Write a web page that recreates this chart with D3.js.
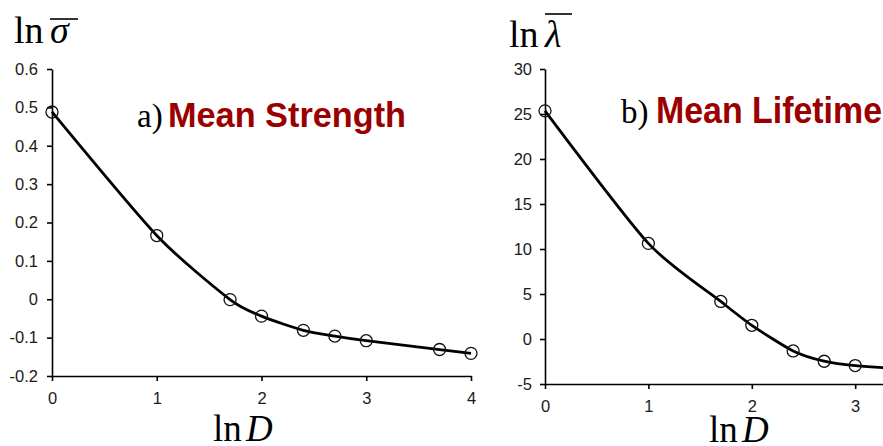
<!DOCTYPE html>
<html>
<head>
<meta charset="utf-8">
<script src="https://cdn.jsdelivr.net/npm/d3@7/dist/d3.min.js"></script>
<style>
  html, body { margin: 0; padding: 0; background: #fff; }
  svg { display: block; }
</style>
</head>
<body>
<svg id="chart" width="883" height="446"></svg>
<script>
// ---- data ----
const lnD_A = [0, 1, 1.7, 2, 2.4, 2.7, 3, 3.7, 4];
const lnSigma = [0.488, 0.166, -0.001, -0.044, -0.081, -0.096, -0.108, -0.131, -0.141];

const lnD_B = [0, 1, 1.7, 2, 2.4, 2.7, 3];
const lnLambda = [25.35, 10.62, 4.17, 1.52, -1.33, -2.47, -2.95];
// curve continues past the cropped right edge
const lnD_B_curve = [0, 1, 1.7, 2, 2.4, 2.7, 3, 3.7, 4];
const lnLambda_curve = [25.35, 10.62, 4.17, 1.52, -1.33, -2.47, -2.95, -3.45, -3.55];

const xTicksA = [0, 1, 2, 3, 4];
const yTicksA = [-0.2, -0.1, 0, 0.1, 0.2, 0.3, 0.4, 0.5, 0.6];
const xTicksB = [0, 1, 2, 3, 4];
const yTicksB = [-5, 0, 5, 10, 15, 20, 25, 30];

const titleA = "Mean Strength";
const titleB = "Mean Lifetime";

// ---- drawing ----
const svg = d3.select("#chart");
const red = "#9a0000";
const serif = "'Liberation Serif', 'Times New Roman', serif";
const sans = "'Liberation Sans', Arial, sans-serif";

function panel(opts) {
  const g = svg.append("g");
  const x = d3.scaleLinear().domain(opts.xDomain).range(opts.xRange);
  const y = d3.scaleLinear().domain(opts.yDomain).range(opts.yRange);

  const fmt = d => String(+d.toFixed(2));

  const xAxis = g.append("g")
    .attr("transform", `translate(0,${opts.yRange[0]})`)
    .call(d3.axisBottom(x).tickValues(opts.xTicks).tickSize(5).tickSizeOuter(0).tickPadding(11).tickFormat(fmt));
  const yAxis = g.append("g")
    .attr("transform", `translate(${opts.xRange[0]},0)`)
    .call(d3.axisLeft(y).tickValues(opts.yTicks).tickSize(5).tickSizeOuter(0).tickPadding(opts.yPad).tickFormat(fmt));

  [xAxis, yAxis].forEach(a => {
    a.attr("font-size", 16.5).attr("font-family", sans);
    a.select(".domain").attr("stroke", "#000").attr("stroke-width", 1.6);
    a.selectAll(".tick line").attr("stroke", "#000").attr("stroke-width", 1.6);
    a.selectAll(".tick text").attr("fill", "#1a1a1a")
      .style("font-family", sans).style("font-size", "16.5px");
  });

  const line = d3.line().x(d => x(d[0])).y(d => y(d[1])).curve(d3.curveCardinal.tension(0.3));
  g.append("path")
    .datum(opts.curveX.map((v, i) => [v, opts.curveY[i]]))
    .attr("d", line)
    .attr("fill", "none")
    .attr("stroke", "#000")
    .attr("stroke-width", 2.8);

  g.selectAll("circle.pt")
    .data(opts.px.map((v, i) => [v, opts.py[i]]))
    .join("circle")
    .attr("class", "pt")
    .attr("cx", d => x(d[0]))
    .attr("cy", d => y(d[1]))
    .attr("r", 6)
    .attr("fill", "none")
    .attr("stroke", "#111")
    .attr("stroke-width", 1.3);

  // panel title
  g.append("text")
    .attr("x", opts.tx).attr("y", opts.ty)
    .style("font-family", serif).style("font-size", "33px")
    .attr("fill", "#000")
    .text(opts.letter);
  g.append("text")
    .attr("x", opts.tx2).attr("y", opts.ty)
    .style("font-family", sans).style("font-size", opts.tSize + "px").style("font-weight", "bold")
    .attr("fill", red)
    .attr("textLength", opts.tLen).attr("lengthAdjust", "spacingAndGlyphs")
    .text(opts.title);

  // y axis title: ln + overlined symbol
  g.append("text")
    .attr("x", opts.yl.x).attr("y", opts.yl.y)
    .style("font-family", serif).style("font-size", "38px")
    .text("ln");
  g.append("text")
    .attr("x", opts.yl.sx).attr("y", opts.yl.y)
    .style("font-family", serif).style("font-size", "38px").style("font-style", "italic")
    .text(opts.yl.sym);
  g.append("line")
    .attr("x1", opts.yl.bx1).attr("x2", opts.yl.bx2)
    .attr("y1", opts.yl.by).attr("y2", opts.yl.by)
    .attr("stroke", "#000").attr("stroke-width", 1.6);

  // x axis title: ln D
  g.append("text")
    .attr("x", opts.xl.x).attr("y", opts.xl.y)
    .style("font-family", serif).style("font-size", "37px")
    .text("ln");
  g.append("text")
    .attr("x", opts.xl.dx).attr("y", opts.xl.y)
    .style("font-family", serif).style("font-size", "37px").style("font-style", "italic")
    .text("D");
}

panel({
  xDomain: [0, 4], xRange: [52, 471],
  yDomain: [-0.2, 0.6], yRange: [376, 69],
  xTicks: xTicksA, yTicks: yTicksA, yPad: 9,
  px: lnD_A, py: lnSigma, curveX: lnD_A, curveY: lnSigma,
  letter: "a)", tx: 137, tx2: 168, ty: 127, tSize: 35, tLen: 238, title: titleA,
  yl: { x: 14, y: 43, sx: 50, sym: "σ", bx1: 50, bx2: 78, by: 19 },
  xl: { x: 213, y: 441, dx: 246 }
});

panel({
  xDomain: [0, 4], xRange: [545, 958.6],
  yDomain: [-5, 30], yRange: [384, 69],
  xTicks: xTicksB, yTicks: yTicksB, yPad: 8,
  px: lnD_B, py: lnLambda, curveX: lnD_B_curve, curveY: lnLambda_curve,
  letter: "b)", tx: 621, tx2: 656, ty: 123, tSize: 36, tLen: 226, title: titleB,
  yl: { x: 509, y: 47, sx: 545, sym: "λ", bx1: 545, bx2: 572, by: 14 },
  xl: { x: 709, y: 442, dx: 742 }
});
</script>
</body>
</html>
